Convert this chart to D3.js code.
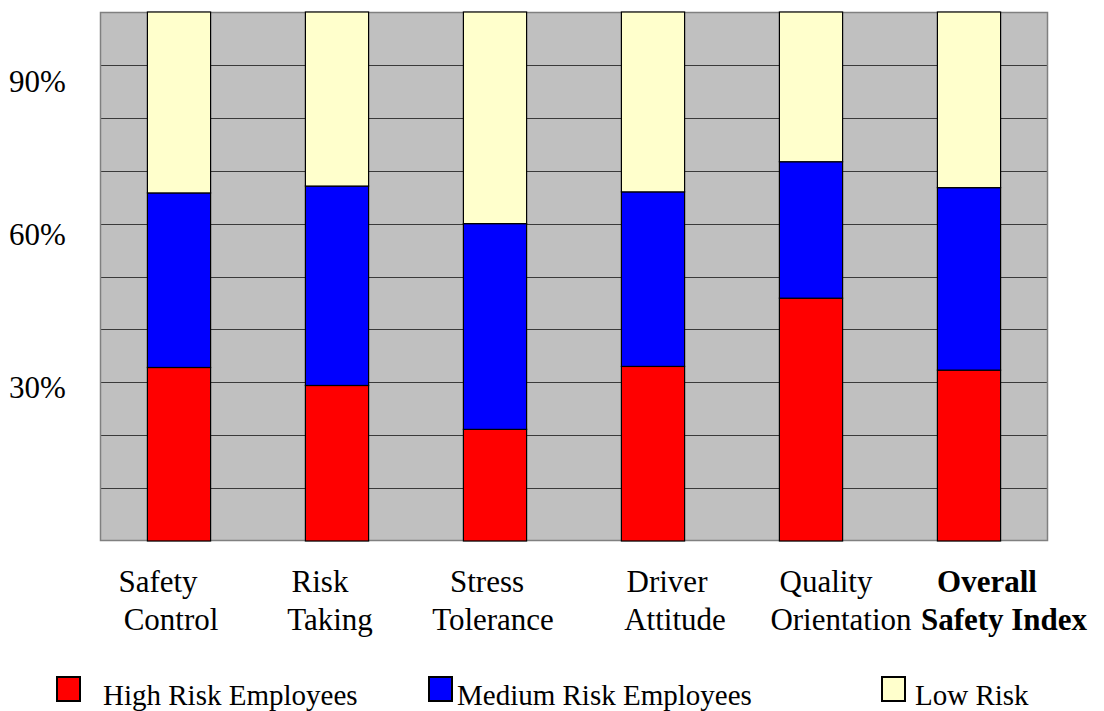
<!DOCTYPE html>
<html>
<head>
<meta charset="utf-8">
<script src="https://cdn.jsdelivr.net/npm/d3@7/dist/d3.min.js"></script>
<style>
  html, body { margin: 0; padding: 0; background: #fff; }
  svg { display: block; font-family: "Liberation Serif", "DejaVu Serif", serif; }
</style>
</head>
<body>
<svg id="chart" width="1104" height="711"></svg>
<script>
// ---- data ----
const categories = [
  ["Safety", "Control"],
  ["Risk", "Taking"],
  ["Stress", "Tolerance"],
  ["Driver", "Attitude"],
  ["Quality", "Orientation"],
  ["Overall", "Safety Index"]
];
const seriesNames = ["High Risk Employees", "Medium Risk Employees", "Low Risk"];
const highRisk   = [32.8, 29.4, 21.1, 33.0, 45.9, 32.3];
const mediumRisk = [33.0, 37.7, 38.9, 33.0, 25.8, 34.5];
const lowRisk    = [34.2, 32.9, 40.0, 34.0, 28.3, 33.2];
const yTickLabels = [30, 60, 90];
const gridValues = [10, 20, 30, 40, 50, 60, 70, 80, 90];

// ---- layout / style ----
const colors = ["#FF0000", "#0000FF", "#FFFFCC"];
const plot = { left: 100, right: 1048, top: 12, bottom: 541 };
const boldCategory = 5;
// per-line horizontal shift of category labels from band centre
const labelShift = [[-21, -8], [-17, -7], [-8, -2], [14, 22], [15, 30], [18, 35]];

const svg = d3.select("#chart");

const keys = ["high", "medium", "low"];
const rows = categories.map((c, i) => ({
  cat: c.join(" "), high: highRisk[i], medium: mediumRisk[i], low: lowRisk[i]
}));

const x = d3.scaleBand()
  .domain(rows.map(d => d.cat))
  .range([plot.left, plot.right])
  .paddingInner(0.6)
  .paddingOuter(0.3);

const y = d3.scaleLinear().domain([0, 100]).range([plot.bottom, plot.top]);
// tick labels are slightly offset in the original; own scale for baselines
const yLabel = d3.scaleLinear().domain([0, 100]).range([551, 41]);

// plot background
svg.append("rect")
  .attr("x", plot.left).attr("y", plot.top)
  .attr("width", plot.right - plot.left).attr("height", plot.bottom - plot.top)
  .attr("fill", "#C0C0C0");

// gridlines
svg.append("g").selectAll("line").data(gridValues).join("line")
  .attr("x1", plot.left).attr("x2", plot.right)
  .attr("y1", d => Math.round(y(d)) + 0.5).attr("y2", d => Math.round(y(d)) + 0.5)
  .attr("stroke", "#3a3a3a").attr("stroke-width", 1.2);

// plot border
svg.append("rect")
  .attr("x", plot.left + 0.5).attr("y", plot.top + 0.5)
  .attr("width", plot.right - plot.left - 1).attr("height", plot.bottom - plot.top - 1)
  .attr("fill", "none").attr("stroke", "#808080").attr("stroke-width", 1.5);

// stacked bars
const stacked = d3.stack().keys(keys)(rows);
svg.append("g").selectAll("g").data(stacked).join("g")
  .attr("fill", (d, i) => colors[i])
  .selectAll("rect").data(d => d).join("rect")
  .attr("x", d => x(d.data.cat))
  .attr("width", x.bandwidth())
  .attr("y", d => y(d[1]))
  .attr("height", d => y(d[0]) - y(d[1]))
  .attr("stroke", "#000").attr("stroke-width", 1.2);

// y tick labels
svg.append("g").selectAll("text").data(yTickLabels).join("text")
  .attr("x", 9).attr("y", d => yLabel(d))
  .attr("font-size", 31).attr("fill", "#000")
  .text(d => d + "%");

// category labels
const catG = svg.append("g");
categories.forEach((lines, i) => {
  const cx = x(rows[i].cat) + x.bandwidth() / 2;
  lines.forEach((ln, j) => {
    catG.append("text")
      .attr("x", cx + labelShift[i][j])
      .attr("y", 592 + j * 38)
      .attr("text-anchor", "middle")
      .attr("font-size", 31)
      .attr("font-weight", i === boldCategory ? "bold" : "normal")
      .attr("fill", "#000")
      .text(ln);
  });
});

// legend
const legendPos = [{ box: 57, text: 103 }, { box: 429, text: 457 }, { box: 882, text: 915 }];
const lg = svg.append("g");
seriesNames.forEach((name, i) => {
  lg.append("rect")
    .attr("x", legendPos[i].box).attr("y", 677)
    .attr("width", 23).attr("height", 24)
    .attr("fill", colors[i]).attr("stroke", "#000").attr("stroke-width", 2);
  lg.append("text")
    .attr("x", legendPos[i].text).attr("y", 705)
    .attr("font-size", 29).attr("fill", "#000")
    .text(name);
});
</script>
</body>
</html>
